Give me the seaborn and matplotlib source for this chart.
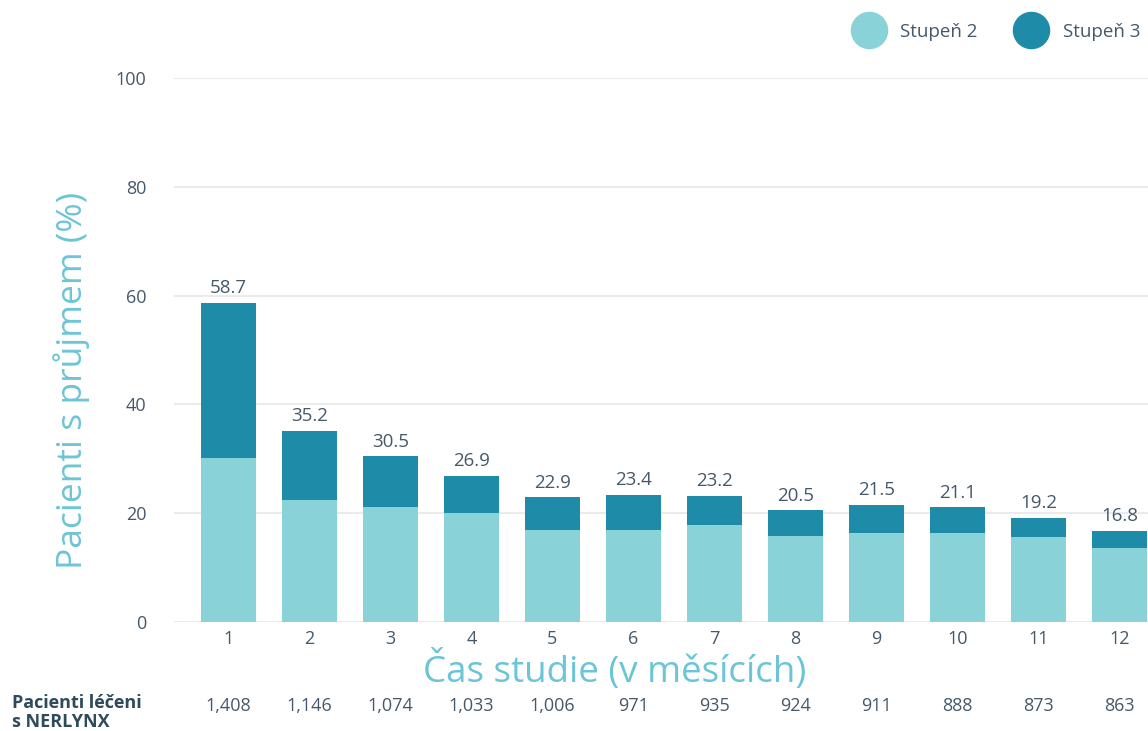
import matplotlib
matplotlib.use("Agg")
import matplotlib.pyplot as plt
from matplotlib.lines import Line2D
import seaborn as sns
import pandas as pd
import numpy as np

months = ["1", "2", "3", "4", "5", "6", "7", "8", "9", "10", "11", "12"]
grade2 = [30.1, 22.4, 21.1, 20.0, 16.9, 16.9, 17.8, 15.8, 16.4, 16.4, 15.6, 13.6]
total = [58.7, 35.2, 30.5, 26.9, 22.9, 23.4, 23.2, 20.5, 21.5, 21.1, 19.2, 16.8]
patients = ["1,408", "1,146", "1,074", "1,033", "1,006", "971", "935", "924", "911", "888", "873", "863"]
yticks = [0, 20, 40, 60, 80, 100]

C_LIGHT = "#88d2d8"
C_DARK = "#1e8ca8"
C_LABEL = "#6cc5d6"
C_TEXT = "#45596a"

sns.set_theme(style="white")
plt.rcParams["font.family"] = ["Open Sans", "DejaVu Sans"]

df = pd.DataFrame({"month": months, "grade2": grade2, "total": total})

W, H = 1148, 731
fig = plt.figure(figsize=(W / 100, H / 100), dpi=100)
ax = fig.add_axes([174 / W, (H - 622) / H, (W - 174) / W, (622 - 78) / H])

sns.barplot(data=df, x="month", y="total", color=C_DARK, width=0.68,
            saturation=1, ax=ax, zorder=3, linewidth=0, edgecolor="none")
sns.barplot(data=df, x="month", y="grade2", color=C_LIGHT, width=0.68,
            saturation=1, ax=ax, zorder=3, linewidth=0, edgecolor="none")

ax.set_ylim(0, 100)
ax.set_xlim(-0.67, 11.35)
ax.set_yticks(yticks)
ax.set_yticklabels([str(t) for t in yticks], fontsize=13, color=C_TEXT)
ax.yaxis.grid(True, color="#ebebeb", linewidth=1.5, zorder=0)
ax.set_axisbelow(True)
for s in ax.spines.values():
    s.set_visible(False)
ax.tick_params(axis="y", length=0, pad=20)
ax.tick_params(axis="x", length=0, pad=6, labelsize=13, labelcolor=C_TEXT)

ax.set_xlabel("Čas studie (v měsících)", fontsize=26.5, color=C_LABEL, labelpad=0)
ax.xaxis.set_label_coords((615 - 174) / 974, -(650 - 622) / 544, transform=ax.transAxes)
ax.xaxis.label.set_va("top")
ax.set_ylabel("Pacienti s průjmem (%)", fontsize=25.5, color=C_LABEL)
ax.yaxis.set_label_coords(-(174 - 72) / 974, (622 - 380) / 544)
ax.yaxis.label.set_va("center")

for i, v in enumerate(total):
    ax.annotate(f"{v:.1f}", (i, v), xytext=(0, 4), textcoords="offset points",
                ha="center", va="bottom", fontsize=13.5, color=C_TEXT)

trans = ax.get_xaxis_transform()
for i, p in enumerate(patients):
    ax.text(i, -(706 - 622) / 544, p, transform=trans, ha="center", va="center",
            fontsize=13, color=C_TEXT)

fig.text(12 / W, 1 - 703 / H, "Pacienti léčeni", fontsize=13, fontweight="bold",
         color="#2f4b5a", va="center", ha="left")
fig.text(12 / W, 1 - 722 / H, "s NERLYNX", fontsize=13, fontweight="bold",
         color="#2f4b5a", va="center", ha="left")

handles = [Line2D([], [], marker="o", linestyle="", markersize=26,
                  markerfacecolor=C_LIGHT, markeredgecolor=C_LIGHT, label="Stupeň 2"),
           Line2D([], [], marker="o", linestyle="", markersize=26,
                  markerfacecolor=C_DARK, markeredgecolor=C_DARK, label="Stupeň 3")]
fig.legend(handles=handles, loc="center right", bbox_to_anchor=(1.0, 1 - 32 / H),
           ncol=2, frameon=False, fontsize=13.5, labelcolor=C_TEXT,
           handletextpad=0.7, columnspacing=1.85, borderaxespad=0.0)

fig.savefig("out.png", dpi=100)
